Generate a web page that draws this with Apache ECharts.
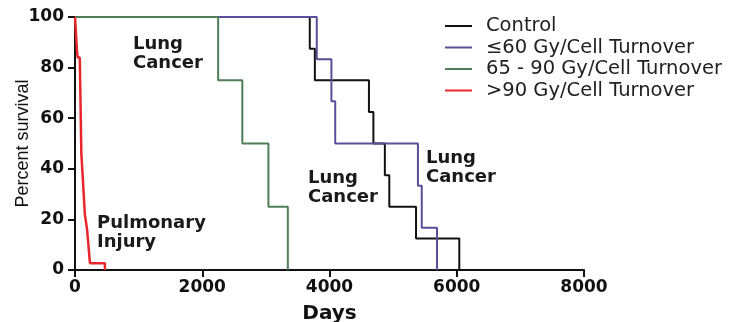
<!DOCTYPE html>
<html><head><meta charset="utf-8">
<script src="https://cdn.jsdelivr.net/npm/echarts@6/dist/echarts.min.js"></script>
<style>html,body{margin:0;padding:0;background:#fff}#c{width:733px;height:322px}</style>
</head><body><div id="c"></div>
<script>
var seriesNames = ['Control', '\u226460 Gy/Cell Turnover', '65 - 90 Gy/Cell Turnover', '>90 Gy/Cell Turnover'];
var controlData = [[0,100],[3690,87.5],[3770,75],[4620,62.5],[4690,50],[4870,37.5],[4940,25],[5360,12.5],[6040,0]];
var lowDoseData = [[0,100],[3800,83.3],[4030,66.7],[4090,50],[5390,33.3],[5450,16.7],[5690,0]];
var midDoseData = [[0,100],[2250,75],[2630,50],[3040,25],[3345,0]];
var highDoseData = [[0,100],[30,87],[42,84],[75,84],[100,46],[155,22],[190,16],[235,2.7],[470,2.7],[470,0]];
var xTicks = [0, 2000, 4000, 6000, 8000];
var yTicks = [0, 20, 40, 60, 80, 100];
var annotations = ['Lung\nCancer', 'Pulmonary\nInjury', 'Lung\nCancer', 'Lung\nCancer'];

var colors = ['#111111', '#5a4e9a', '#4e7d58', '#e8262b'];
var chart = echarts.init(document.getElementById('c'));
var tickFont = {fontFamily: 'DejaVu Sans', fontWeight: 'bold', fontSize: 17, color: '#111', formatter: function (v) { return String(v); }};
var annStyle = {fontFamily: 'DejaVu Sans', fontWeight: 'bold', fontSize: 18, lineHeight: 19, fill: '#1a1a1a'};
var annPos = [[133, 35], [97, 214], [308, 169], [426, 149]];
chart.setOption({
  animation: false,
  color: colors,
  grid: {left: 75, right: 149, top: 17, bottom: 52, containLabel: false, outerBoundsMode: 'none'},
  legend: {
    orient: 'vertical', left: 445, top: 16, padding: 0, icon: 'rect', itemWidth: 27, itemHeight: 2, itemGap: 1.5,
    textStyle: {fontFamily: 'DejaVu Sans', fontSize: 19.5, color: '#222', padding: [0, 0, 0, 9]},
    data: seriesNames
  },
  xAxis: {
    type: 'value', min: xTicks[0], max: xTicks[xTicks.length - 1], interval: 2000,
    name: 'Days', nameLocation: 'middle', nameGap: 34, nameMoveOverlap: false,
    nameTextStyle: {fontFamily: 'DejaVu Sans', fontWeight: 'bold', fontSize: 20, color: '#111'},
    axisLine: {lineStyle: {color: '#111', width: 2}},
    axisTick: {length: 7, lineStyle: {color: '#111', width: 2}},
    axisLabel: Object.assign({margin: 9}, tickFont),
    splitLine: {show: false}
  },
  yAxis: {
    type: 'value', min: yTicks[0], max: yTicks[yTicks.length - 1], interval: 20,
    name: 'Percent survival', nameLocation: 'middle', nameGap: 43, nameMoveOverlap: false,
    nameTextStyle: {fontFamily: 'Liberation Sans', fontSize: 18, color: '#111'},
    axisLine: {show: true, lineStyle: {color: '#111', width: 2}},
    axisTick: {show: true, length: 7, lineStyle: {color: '#111', width: 2}},
    axisLabel: Object.assign({margin: 11}, tickFont),
    splitLine: {show: false}
  },
  series: [
    {name: seriesNames[0], type: 'line', step: 'end', data: controlData, symbol: 'none', lineStyle: {width: 2, color: colors[0]}, z: 2},
    {name: seriesNames[1], type: 'line', step: 'end', data: lowDoseData, symbol: 'none', lineStyle: {width: 2, color: colors[1]}, z: 3},
    {name: seriesNames[2], type: 'line', step: 'end', data: midDoseData, symbol: 'none', lineStyle: {width: 2, color: colors[2]}, z: 4},
    {name: seriesNames[3], type: 'line', data: highDoseData, symbol: 'none', lineStyle: {width: 2.5, color: colors[3]}, z: 5}
  ],
  graphic: annotations.map(function (t, i) {
    return {type: 'text', left: annPos[i][0], top: annPos[i][1], z: 10,
      style: Object.assign({text: t}, annStyle)};
  })
});
</script></body></html>
